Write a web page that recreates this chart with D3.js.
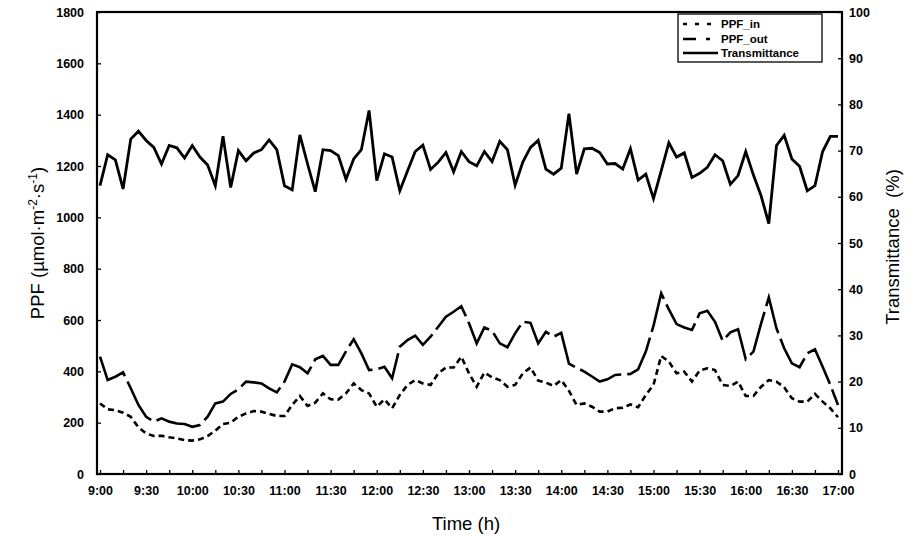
<!DOCTYPE html>
<html><head><meta charset="utf-8">
<script src="https://cdn.jsdelivr.net/npm/d3@7/dist/d3.min.js"></script>
<style>
body{margin:0;background:#fff}
svg{display:block}
text{font-family:"Liberation Sans",Arial,Helvetica,sans-serif;fill:#000}
</style>
</head><body>
<svg id="chart" width="912" height="537"></svg>
<script>
// ---- data (5-minute readings, 9:00 to 17:00) ----
const startMinute = 540, endMinute = 1020, stepMinutes = 5;
const tickLabels = ["9:00","9:30","10:00","10:30","11:00","11:30","12:00","12:30","13:00",
                    "13:30","14:00","14:30","15:00","15:30","16:00","16:30","17:00"];
const ppfTicks = [0,200,400,600,800,1000,1200,1400,1600,1800];
const transTicks = [0,10,20,30,40,50,60,70,80,90,100];

const ppfIn = [275,252,249,239,223,182,158,148,149,143,139,132,130,135,148,169,195,200,223,236,
  245,243,234,226,226,269,304,265,278,314,291,290,314,353,327,314,262,291,256,308,
  347,366,353,347,392,415,415,457,392,340,395,377,366,340,347,392,415,364,356,343,
  366,324,269,275,262,243,243,256,258,271,260,308,347,460,438,392,399,360,403,412,
  405,347,343,360,304,304,340,366,360,338,295,282,282,312,282,256,221];
const ppfOut = [457,366,379,396,334,269,223,204,217,204,197,195,184,191,223,275,282,312,330,360,
  357,353,334,318,360,427,416,392,447,460,425,425,478,525,470,405,408,418,373,496,
  522,539,503,535,574,613,632,654,587,509,571,558,509,494,548,593,589,509,554,535,
  550,430,414,399,380,360,369,386,388,390,408,477,577,704,641,584,571,561,626,636,
  593,519,552,564,447,477,587,688,567,490,431,416,470,486,418,347,269];
const transmittance = [62.4,69.1,68.0,61.7,72.5,74.2,72.2,70.7,67.1,71.1,70.6,68.4,71.1,68.6,66.9,62.4,73.1,62.0,70.0,67.8,
  69.5,70.2,72.3,70.2,62.4,61.5,73.4,67.1,61.1,70.2,70.0,68.9,63.8,68.2,70.2,78.7,63.5,69.3,68.6,61.3,
  65.6,69.8,71.2,65.9,67.5,69.6,65.4,69.8,67.6,66.7,69.8,67.6,72.0,70.2,62.5,67.5,70.7,72.2,66.0,64.9,
  66.2,78.0,64.9,70.4,70.5,69.6,67.1,67.2,66.0,70.4,63.6,64.9,59.6,65.6,71.7,68.6,69.5,64.2,65.1,66.4,
  69.1,67.8,62.7,64.6,69.8,64.7,60.2,54.2,71.1,73.3,68.2,66.6,61.3,62.4,69.8,73.1,73.1];
const minutes = d3.range(startMinute, endMinute + 1, stepMinutes);

// ---- layout ----
const L = 97, R = 842, T = 12, B = 474;
const svg = d3.select("#chart");

const x = d3.scaleLinear().domain([startMinute, endMinute]).range([100, 838]);
const yL = d3.scaleLinear().domain([0, 1800]).range([B, T]);
const yR = d3.scaleLinear().domain([0, 100]).range([B, T]);

// axes
const fontTick = "bold 12.5px 'Liberation Sans', Arial, sans-serif";
const gL = svg.append("g").attr("transform", `translate(${L},0)`)
  .call(d3.axisLeft(yL).tickValues(ppfTicks).tickFormat(d3.format("d"))
    .tickSizeInner(-4).tickSizeOuter(0).tickPadding(13));
const gR = svg.append("g").attr("transform", `translate(${R},0)`)
  .call(d3.axisRight(yR).tickValues(transTicks).tickFormat(d3.format("d"))
    .tickSizeInner(-4).tickSizeOuter(0).tickPadding(7));
const xTickVals = d3.range(startMinute, endMinute + 1, 15);
const gX = svg.append("g").attr("transform", `translate(0,${B})`)
  .call(d3.axisBottom(x).tickValues(xTickVals).tickSizeInner(-4).tickSizeOuter(0).tickPadding(12)
    .tickFormat(m => (m - startMinute) % 30 === 0 ? tickLabels[(m - startMinute) / 30] : ""));

[gL, gR, gX].forEach(g => {
  g.selectAll(".domain").remove();
  g.selectAll(".tick line").attr("stroke", "#000").attr("stroke-width", 1.3);
  g.selectAll(".tick text").style("font", fontTick).attr("fill", "#000");
});

// frame
svg.append("rect").attr("x", L).attr("y", T).attr("width", R - L).attr("height", B - T)
  .attr("fill", "none").attr("stroke", "#000").attr("stroke-width", 2.2);

// lines
const lineL = d3.line().x((d, i) => x(minutes[i])).y(d => yL(d));
const lineR = d3.line().x((d, i) => x(minutes[i])).y(d => yR(d));

svg.append("path").datum(ppfIn).attr("d", lineL)
  .attr("fill", "none").attr("stroke", "#000").attr("stroke-width", 2.6)
  .attr("stroke-dasharray", "6,4");
svg.append("path").datum(ppfOut).attr("d", lineL)
  .attr("fill", "none").attr("stroke", "#000").attr("stroke-width", 2.6)
  .attr("stroke-dasharray", "46,6");
svg.append("path").datum(transmittance).attr("d", lineR)
  .attr("fill", "none").attr("stroke", "#000").attr("stroke-width", 2.8)
  .attr("stroke-linejoin", "miter");

// legend
const lg = svg.append("g");
lg.append("rect").attr("x", 678).attr("y", 14).attr("width", 144).attr("height", 48)
  .attr("fill", "#fff").attr("stroke", "#000").attr("stroke-width", 1.3);
const rows = [24, 39, 53];
const legendNames = ["PPF_in", "PPF_out", "Transmittance"];
// PPF_in sample: short dashes
lg.append("line").attr("x1", 683).attr("x2", 718).attr("y1", rows[0]).attr("y2", rows[0])
  .attr("stroke", "#000").attr("stroke-width", 2.4).attr("stroke-dasharray", "4,8");
// PPF_out sample: long dash + short dash
lg.append("line").attr("x1", 683).attr("x2", 718).attr("y1", rows[1]).attr("y2", rows[1])
  .attr("stroke", "#000").attr("stroke-width", 2.4).attr("stroke-dasharray", "13,10,4,20");
// Transmittance sample: solid
lg.append("line").attr("x1", 683).attr("x2", 718).attr("y1", rows[2]).attr("y2", rows[2])
  .attr("stroke", "#000").attr("stroke-width", 2.6);
legendNames.forEach((n, i) => {
  lg.append("text").attr("x", 721).attr("y", rows[i]).attr("dy", "0.35em")
    .style("font", "bold 11.5px 'Liberation Sans', Arial, sans-serif").text(n);
});

// axis titles
svg.append("text").attr("transform", `translate(44,${(T + B) / 2}) rotate(-90)`)
  .attr("text-anchor", "middle").style("font-size", "18.5px")
  .call(t => {
    t.append("tspan").text("PPF (µmol·m");
    t.append("tspan").attr("baseline-shift", "super").style("font-size", "12px").text("-2");
    t.append("tspan").text("·s");
    t.append("tspan").attr("baseline-shift", "super").style("font-size", "12px").text("-1");
    t.append("tspan").text(")");
  });
svg.append("text").attr("transform", `translate(899,${(T + B) / 2 + 4}) rotate(-90)`)
  .attr("text-anchor", "middle").style("font-size", "18.5px")
  .style("white-space", "pre").text("Transmittance  (%)");
svg.append("text").attr("x", 466).attr("y", 530).attr("text-anchor", "middle")
  .style("font-size", "18.5px").text("Time (h)");
</script>
</body></html>
